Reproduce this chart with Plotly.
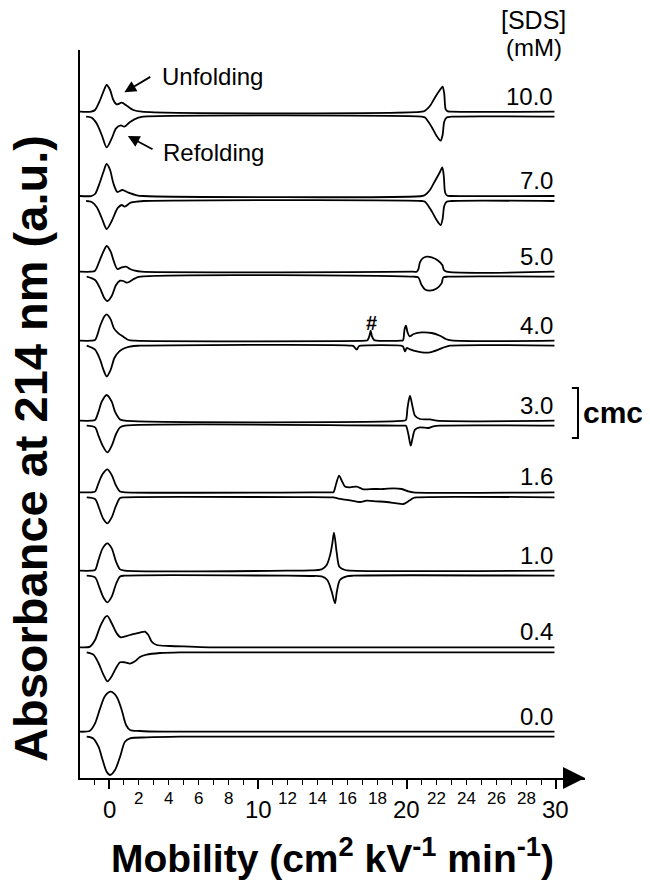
import plotly.graph_objects as go

# ---------------- data ----------------
concentrations = ["10.0", "7.0", "5.0", "4.0", "3.0", "1.6", "1.0", "0.4", "0.0"]
stack_offset = [666.3, 582.0, 506.3, 437.3, 357.3, 285.7, 207.3, 130.7, 46.3]
refold_gap = 5.0

# 10.0 mM
u10_x = [-1.95, -1.2, -0.94, -0.6, -0.38, -0.16, 0.07, 0.29, 0.51, 0.85, 1.19, 1.63, 2.19, 21.0, 21.21, 21.54, 21.88, 22.21, 22.39, 22.5, 22.6, 22.75, 22.95, 29.9]
u10_y = [0, 0, 1.7, 11.7, 20, 26.7, 21.7, 11.7, 7.3, 9, 6, 1.7, 0, 0, 1, 5.7, 14.3, 21.7, 25, 18, 2.3, 0.3, 0, 0]
r10_x = [-1.54, -1.16, -0.83, -0.49, -0.16, 0.18, 0.47, 0.78, 1.03, 1.41, 1.97, 2.3, 21.0, 21.21, 21.65, 21.99, 22.26, 22.39, 22.5, 22.66, 23.0, 29.9]
r10_y = [0, -1, -6.7, -18.3, -30.7, -21.7, -11.7, -8.7, -10, -5.3, -1, 0, 0, -0.7, -10, -19.3, -24, -18.3, -5, -0.7, 0, 0]
# 7.0 mM
u7_x = [-1.95, -1.2, -0.94, -0.6, -0.38, -0.16, 0.07, 0.29, 0.56, 0.89, 1.3, 1.86, 2.3, 21.0, 21.21, 21.54, 21.88, 22.21, 22.37, 22.47, 22.57, 22.72, 22.95, 29.9]
u7_y = [0, 0, 2, 14.3, 24, 32, 26, 12.7, 4, 6, 3.3, 0.7, 0, 0, 1, 6, 15, 24, 28.7, 20, 3, 0.3, 0, 0]
r7_x = [-1.54, -1.16, -0.83, -0.49, -0.16, 0.18, 0.47, 0.6, 0.85, 1.05, 1.45, 1.97, 2.3, 21.0, 21.21, 21.65, 21.99, 22.26, 22.39, 22.5, 22.66, 23.0, 29.9]
r7_y = [0, -1, -6, -17, -28, -20, -10, -6.7, -4, -5.7, -1.7, -0.5, 0, 0, -0.7, -10, -19, -24, -18, -5, -0.7, 0, 0]
# 5.0 mM
u5_x = [-1.95, -1.2, -0.94, -0.6, -0.38, -0.16, 0.11, 0.33, 0.56, 0.85, 1.14, 1.41, 1.74, 2.19, 20.4, 20.65, 20.76, 20.87, 21.05, 21.32, 21.66, 22.1, 22.37, 22.48, 22.66, 29.9]
u5_y = [0, 0, 1, 12.3, 20, 25.7, 20, 10, 2.7, 4.3, 5, 2.7, 1, 0, 0, 0, 2.3, 9.3, 13.3, 15, 14.3, 11, 6.7, 1.7, 0, 0]
r5_x = [-1.5, -0.94, -0.6, -0.34, -0.11, 0.18, 0.47, 0.74, 0.96, 1.19, 1.45, 1.74, 2.07, 20.4, 20.76, 20.98, 21.21, 21.54, 21.99, 22.32, 22.44, 22.77, 29.9]
r5_y = [0, -3.3, -11.7, -20.7, -24.3, -19.3, -8.3, -4, -4.3, -6, -4.3, -1.7, 0, 0, -0.7, -8.3, -12.7, -14, -11.7, -6.7, -0.7, 0, 0]
# 4.0 mM
u4_x = [-1.95, -1.2, -0.94, -0.6, -0.33, -0.16, 0.11, 0.33, 0.63, 0.96, 1.3, 1.74, 17.2, 17.34, 17.47, 17.56, 17.65, 17.79, 17.95, 19.6, 19.73, 19.84, 19.93, 20.04, 20.18, 20.45, 21.0, 21.66, 22.21, 22.6, 22.98, 29.9]
u4_y = [0, 0, 0.7, 14.7, 24, 26.3, 21.3, 12.3, 7.3, 4, 0.7, 0, 0, 0.3, 4.3, 10, 4.3, 0.7, 0, 0, 0.3, 11.7, 15, 8.3, 4.3, 6.7, 8.3, 7.7, 5, 1.7, 0.3, 0]
r4_x = [-1.5, -0.94, -0.6, -0.38, -0.16, 0.11, 0.36, 0.69, 1.07, 1.63, 2.07, 16.3, 16.44, 16.62, 16.76, 16.9, 19.6, 19.73, 19.87, 19.98, 20.15, 20.45, 21.0, 21.55, 22.1, 22.55, 22.89, 29.9]
r4_y = [0, -4, -14, -24, -30.7, -24, -12.3, -5.7, -2.3, -0.3, 0, 0, -0.7, -4, -0.7, 0, 0, -0.7, -5.7, -2.3, -3.3, -5, -6.7, -6.7, -4, -1.3, 0, 0]
# 3.0 mM
u3_x = [-1.95, -1.2, -0.94, -0.71, -0.49, -0.16, 0.18, 0.4, 0.74, 1.07, 19.8, 19.93, 20.04, 20.2, 20.36, 20.54, 20.87, 21.55, 22.0, 29.9]
u3_y = [0, 0, 0.7, 9, 19, 25.7, 19, 9, 1.3, 0, 0, 0.7, 13.3, 25, 15, 5, 1.7, 1.3, 0, 0]
r3_x = [-1.5, -0.94, -0.71, -0.43, -0.11, 0.18, 0.47, 0.74, 1.07, 19.8, 19.93, 20.09, 20.25, 20.36, 20.54, 20.87, 21.43, 21.77, 22.21, 29.9]
r3_y = [0, -1.7, -10, -20, -26.7, -20, -8.3, -1.7, 0, 0, 0, -8.3, -20, -13.3, -4, -1.7, -2.3, -0.7, 0, 0]
# 1.6 mM
u16_x = [-1.95, -1.2, -0.94, -0.71, -0.43, -0.11, 0.18, 0.45, 0.74, 1.07, 14.9, 15.06, 15.24, 15.44, 15.62, 15.84, 16.18, 16.62, 17.07, 17.74, 18.41, 19.09, 19.65, 20.09, 20.43, 29.9]
u16_y = [0, 0, 0.7, 9, 18.3, 23, 17.3, 7.3, 0.7, 0, 0, 0, 8.3, 16.7, 11.7, 5.7, 5, 5.7, 3, 3.3, 3.3, 4, 3.3, 1, 0, 0]
r16_x = [-1.5, -0.94, -0.65, -0.38, -0.11, 0.18, 0.47, 0.74, 1.07, 14.9, 15.06, 15.4, 15.84, 16.29, 16.85, 17.29, 17.96, 18.63, 19.31, 19.75, 20.16, 20.43, 20.65, 29.9]
r16_y = [0, -1.7, -11.7, -21.7, -26, -20, -8.3, -0.7, 0, 0, 0, -1.3, -2.3, -3.3, -4.7, -3.3, -4, -4.7, -6, -6.7, -3.3, -0.7, 0, 0]
# 1.0 mM
u1_x = [-1.95, -1.2, -0.94, -0.71, -0.43, -0.11, 0.18, 0.47, 0.74, 1.07, 12.0, 13.5, 14.27, 14.61, 14.84, 14.99, 15.1, 15.29, 15.46, 15.84, 16.18, 29.9]
u1_y = [0, 0, 0.7, 10.7, 22.3, 27.3, 22.3, 9, 1.3, 0, 0, 0.3, 1.3, 5.7, 15.7, 27.3, 38, 17.3, 4, 0.7, 0, 0]
r1_x = [-1.5, -0.94, -0.65, -0.38, -0.11, 0.18, 0.47, 0.74, 1.07, 12.0, 13.5, 14.27, 14.65, 14.95, 15.17, 15.29, 15.5, 15.95, 16.4, 29.9]
r1_y = [0, -1.7, -11.7, -21.7, -26.7, -21, -8.3, -0.7, 0, 0, -0.3, -0.7, -4.3, -16, -27.7, -16, -4.3, -0.7, 0, 0]
# 0.4 mM
u04_x = [-1.95, -1.28, -0.94, -0.6, -0.27, -0.11, 0.18, 0.51, 0.78, 1.41, 2.07, 2.41, 2.64, 2.86, 3.2, 4.09, 5.43, 7.0, 29.9]
u04_y = [0, 0.7, 7.3, 20.7, 30, 31.3, 24, 14, 10, 12.3, 14.7, 15.7, 12.3, 5.7, 2.3, 1.3, 0.7, 0, 0]
r04_x = [-1.5, -1.05, -0.71, -0.38, -0.11, 0.18, 0.47, 0.74, 1.07, 1.41, 1.74, 2.07, 2.52, 3.42, 4.76, 29.9]
r04_y = [0, -2.3, -10.7, -22.3, -29, -24, -15.7, -10, -10, -11.3, -9, -4.7, -2.3, -0.7, 0, 0]
# 0.0 mM
u0_x = [-1.95, -1.28, -0.94, -0.6, -0.27, 0.11, 0.51, 0.85, 1.14, 1.41, 2.07, 3.63, 29.9]
u0_y = [0, 1, 8.3, 23.3, 35.7, 40, 35, 21.7, 6.7, 1.7, 0.7, 0, 0]
r0_x = [-1.5, -1.06, -0.71, -0.43, -0.16, 0.07, 0.4, 0.74, 1.07, 1.41, 2.52, 4.76, 29.9]
r0_y = [0, -1.7, -10, -23.3, -35, -38.3, -33.3, -20, -5, -1.7, -0.7, 0, 0]

major_ticks = [0, 10, 20, 30]
minor_tick_labels = [2, 4, 6, 8, 12, 14, 16, 18, 22, 24, 26, 28]
minor_ticks = list(range(-1, 31))

unfold = [(u10_x, u10_y), (u7_x, u7_y), (u5_x, u5_y), (u4_x, u4_y), (u3_x, u3_y),
          (u16_x, u16_y), (u1_x, u1_y), (u04_x, u04_y), (u0_x, u0_y)]
refold = [(r10_x, r10_y), (r7_x, r7_y), (r5_x, r5_y), (r4_x, r4_y), (r3_x, r3_y),
          (r16_x, r16_y), (r1_x, r1_y), (r04_x, r04_y), (r0_x, r0_y)]

# ---------------- figure ----------------
FONT = "Liberation Sans, Arial, Helvetica, sans-serif"
line_style = dict(color="black", width=1.8, shape="spline", smoothing=0.8)

fig = go.Figure()
for conc, off, (ux, uy), (rx, ry) in zip(concentrations, stack_offset, unfold, refold):
    fig.add_trace(go.Scatter(x=ux, y=[off + v for v in uy], mode="lines", line=line_style,
                             name=f"{conc} mM unfolding", showlegend=False, hoverinfo="skip"))
    fig.add_trace(go.Scatter(x=rx, y=[off - refold_gap + v for v in ry], mode="lines", line=line_style,
                             name=f"{conc} mM refolding", showlegend=False, hoverinfo="skip"))

ann = []
# tick labels
for v in major_ticks:
    ann.append(dict(x=v, y=0, yref="paper", text=str(v), showarrow=False, yanchor="middle",
                    yshift=-31, font=dict(size=24, family=FONT, color="black")))
for v in minor_tick_labels:
    ann.append(dict(x=v, y=0, yref="paper", text=str(v), showarrow=False, yanchor="middle",
                    yshift=-20, font=dict(size=17, family=FONT, color="black")))
# concentration labels
for conc, off in zip(concentrations, stack_offset):
    ann.append(dict(x=29.95, y=off, text=conc, showarrow=False, xanchor="right", yanchor="bottom",
                    font=dict(size=24, family=FONT, color="black")))
ann.append(dict(x=28.5, y=1, yref="paper", xanchor="center", yanchor="middle", yshift=30, text="[SDS]",
                showarrow=False, font=dict(size=25, family=FONT, color="black")))
ann.append(dict(x=28.5, y=1, yref="paper", xanchor="center", yanchor="middle", yshift=3, text="(mM)",
                showarrow=False, font=dict(size=24, family=FONT, color="black")))
# unfolding / refolding
ann.append(dict(x=6.95, y=702, text="Unfolding", showarrow=False, xanchor="center", yanchor="middle",
                font=dict(size=24, family=FONT, color="black")))
ann.append(dict(x=1.03, y=685.7, ax=2.87, ay=702, axref="x", ayref="y", text="", showarrow=True,
                arrowhead=2, arrowsize=1.3, arrowwidth=1.8, arrowcolor="black"))
ann.append(dict(x=6.98, y=626, text="Refolding", showarrow=False, xanchor="center", yanchor="middle",
                font=dict(size=24, family=FONT, color="black")))
ann.append(dict(x=1.26, y=642, ax=3.02, ay=628, axref="x", ayref="y", text="", showarrow=True,
                arrowhead=2, arrowsize=1.3, arrowwidth=1.8, arrowcolor="black"))
# marker '#'
ann.append(dict(x=17.63, y=455, text="<b>#</b>", showarrow=False, xanchor="center", yanchor="middle",
                font=dict(size=20, family=FONT, color="black")))
# cmc
ann.append(dict(x=31.7, y=366, text="<b>cmc</b>", showarrow=False, xanchor="left", yanchor="middle",
                font=dict(size=30, family=FONT, color="black")))
# axis arrow
ann.append(dict(x=31.95, y=0, ax=30.6, ay=0, axref="x", ayref="y", text="", showarrow=True,
                arrowhead=2, arrowsize=2.2, arrowwidth=2, arrowcolor="black"))
# axis titles
ann.append(dict(x=0.5, y=0, xref="paper", yref="paper", xanchor="center", yanchor="middle", yshift=-77,
                text="<b>Mobility (cm<sup>2</sup> kV<sup>-1</sup> min<sup>-1</sup>)</b>", showarrow=False,
                font=dict(size=39, family=FONT, color="black")))
ann.append(dict(x=-0.097, y=0.452, xref="paper", yref="paper", xanchor="center", yanchor="middle",
                textangle=-90, text="<b>Absorbance at 214 nm (a.u.)</b>", showarrow=False,
                font=dict(size=47, family=FONT, color="black")))

shapes = [dict(type="path", xref="x", yref="y", path="M 31.07,390 L 31.48,390 L 31.48,340 L 31.07,340",
               line=dict(color="black", width=2))]

fig.update_layout(
    width=650, height=882,
    margin=dict(l=80, r=65, t=50, b=104),
    paper_bgcolor="white", plot_bgcolor="white",
    font=dict(family=FONT, color="black"),
    xaxis=dict(range=[-1.95, 31.95], showline=True, linecolor="black", linewidth=2,
               ticks="outside", tickvals=major_ticks, ticklen=9, tickwidth=2, tickcolor="black",
               showticklabels=False, showgrid=False, zeroline=False,
               minor=dict(tickmode="array", tickvals=minor_ticks, ticks="outside", ticklen=5,
                          tickwidth=1, tickcolor="black", showgrid=False)),
    yaxis=dict(range=[0, 728], showline=True, linecolor="black", linewidth=2, ticks="",
               showticklabels=False, showgrid=False, zeroline=False),
    annotations=ann, shapes=shapes, showlegend=False,
)

fig.write_html("out.html", config={"displayModeBar": False},
               post_script="document.body.style.margin='0px';")
